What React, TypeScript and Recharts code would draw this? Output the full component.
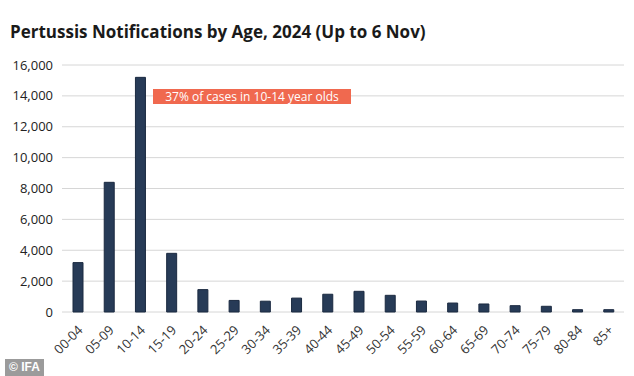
import { BarChart, Bar, XAxis, YAxis, CartesianGrid } from 'recharts'

const ageGroups = [
  '00-04', '05-09', '10-14', '15-19', '20-24', '25-29', '30-34', '35-39', '40-44', '45-49',
  '50-54', '55-59', '60-64', '65-69', '70-74', '75-79', '80-84', '85+',
]
const notifications = [
  3200, 8400, 15200, 3800, 1450, 750, 700, 900, 1150, 1340,
  1080, 710, 580, 520, 410, 370, 150, 150,
]
const yTicks = [0, 2000, 4000, 6000, 8000, 10000, 12000, 14000, 16000]

const data = ageGroups.map((age, i) => ({ age, value: notifications[i] }))

const FONT = '"Open Sans", sans-serif'

function AgeTick({ x, y, payload }: any) {
  const ax = x + 6
  const ay = y + 11
  return (
    <text
      x={ax}
      y={ay}
      textAnchor="end"
      transform={`rotate(-45, ${ax}, ${ay})`}
      fontSize={13}
      fill="#333"
      fontFamily={FONT}
    >
      {payload.value}
    </text>
  )
}

export default function App() {
  return (
    <div style={{ position: 'absolute', left: 0, top: 0, width: 634, height: 376, background: '#fff', fontFamily: FONT }}>
      <div style={{ position: 'absolute', left: 10, top: 20, fontSize: 17, fontWeight: 700, color: '#1a1a1a' }}>
        Pertussis Notifications by Age, 2024 (Up to 6 Nov)
      </div>
      <BarChart width={634} height={376} data={data} margin={{ top: 65, right: 10, bottom: 0, left: 0 }}>
        <CartesianGrid vertical={false} stroke="#d6d6d6" />
        <XAxis
          dataKey="age"
          axisLine={false}
          tickLine={false}
          interval={0}
          height={64}
          tick={<AgeTick />}
        />
        <YAxis
          domain={[0, 16000]}
          ticks={yTicks}
          axisLine={false}
          tickLine={false}
          width={62}
          tickMargin={3}
          tickFormatter={(v: number) => v.toLocaleString('en-US')}
          tick={{ fontSize: 13, fill: '#222', fontFamily: FONT }}
        />
        <Bar dataKey="value" fill="#273b57" stroke="#1b2a40" strokeWidth={1} barSize={10} isAnimationActive={false} />
      </BarChart>
      <div
        style={{
          position: 'absolute', left: 153, top: 89, width: 198, height: 15, background: '#f0694f',
          color: '#fff', fontSize: 12, lineHeight: '15px', textAlign: 'center',
        }}
      >
        37% of cases in 10-14 year olds
      </div>
      <div
        style={{
          position: 'absolute', left: 5, top: 359, width: 39, height: 17, background: '#9b9b9b',
          color: '#fff', fontSize: 12, fontWeight: 700, lineHeight: '17px', textAlign: 'center', fontFamily: 'Arial, sans-serif',
        }}
      >
        © IFA
      </div>
    </div>
  )
}
